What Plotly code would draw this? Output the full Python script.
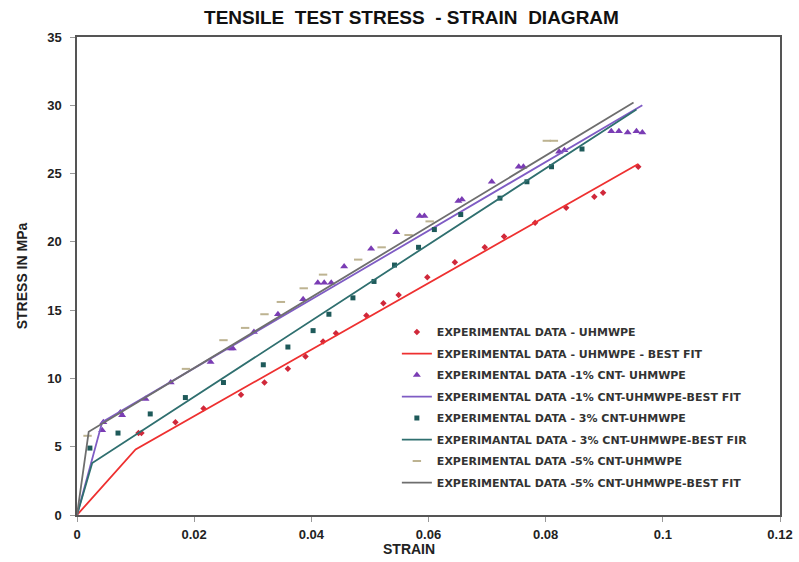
import plotly.graph_objects as go

# ---------------- data ----------------
uh_x = [0.0105, 0.011, 0.0168, 0.0216, 0.028, 0.032, 0.036, 0.039, 0.042, 0.0442, 0.0494,
        0.0523, 0.0549, 0.0598, 0.0645, 0.0696, 0.0729, 0.0782, 0.0835, 0.0883, 0.0898, 0.0958]
uh_y = [6.0, 6.0, 6.8, 7.8, 8.8, 9.7, 10.7, 11.6, 12.7, 13.3, 14.6,
        15.5, 16.1, 17.4, 18.5, 19.6, 20.4, 21.4, 22.5, 23.3, 23.6, 25.5]
uh_fit_x = [0, 0.01, 0.0958]
uh_fit_y = [0, 4.8, 25.7]

c1_x = [0.0043, 0.0045, 0.0074, 0.0077, 0.0117, 0.016, 0.0228, 0.0262, 0.0266, 0.0302, 0.0343,
        0.0386, 0.0411, 0.0422, 0.0434, 0.0456, 0.0502, 0.0545, 0.0585, 0.0593, 0.0651, 0.0657,
        0.0708, 0.0754, 0.0762, 0.0823, 0.0832, 0.0912, 0.0925, 0.0940, 0.0955, 0.0965]
c1_y = [6.2, 6.8, 7.5, 7.3, 8.5, 9.7, 11.2, 12.2, 12.2, 13.4, 14.7,
        15.8, 17.0, 17.0, 17.0, 18.2, 19.5, 20.7, 21.9, 21.9, 23.0, 23.1,
        24.4, 25.5, 25.5, 26.6, 26.7, 28.1, 28.1, 28.0, 28.1, 28.0]
c1_fit_x = [0, 0.0043, 0.0965]
c1_fit_y = [0, 6.8, 30.0]

c3_x = [0.0022, 0.007, 0.0125, 0.0185, 0.025, 0.0318, 0.036, 0.0403, 0.043, 0.0471, 0.0507,
        0.0542, 0.0583, 0.061, 0.0655, 0.0722, 0.0768, 0.0810, 0.0862]
c3_y = [4.9, 6.0, 7.4, 8.6, 9.7, 11.0, 12.3, 13.5, 14.7, 15.9, 17.1,
        18.3, 19.6, 20.9, 22.0, 23.2, 24.4, 25.5, 26.8]
c3_fit_x = [0, 0.0026, 0.0955]
c3_fit_y = [0, 3.8, 29.7]

c5_x = [0.0018, 0.0186, 0.025, 0.0287, 0.032, 0.0348, 0.0387, 0.042, 0.048, 0.052, 0.0566,
        0.0602, 0.0802, 0.0814]
c5_y = [5.8, 10.7, 12.8, 13.7, 14.7, 15.6, 16.6, 17.6, 18.7, 19.6, 20.5,
        21.5, 27.4, 27.4]
c5_fit_x = [0, 0.002, 0.095]
c5_fit_y = [0, 6.1, 30.2]

names = [
    "EXPERIMENTAL DATA - UHMWPE",
    "EXPERIMENTAL DATA - UHMWPE - BEST FIT",
    "EXPERIMENTAL DATA -1% CNT- UHMWPE",
    "EXPERIMENTAL DATA -1% CNT-UHMWPE-BEST FIT",
    "EXPERIMENTAL DATA - 3% CNT-UHMWPE",
    "EXPERIMANTAL DATA - 3% CNT-UHMWPE-BEST FIR",
    "EXPERIMENTAL DATA -5% CNT-UHMWPE",
    "EXPERIMENTAL DATA -5% CNT-UHMWPE-BEST FIT",
]

x_ticks = [0, 0.02, 0.04, 0.06, 0.08, 0.1, 0.12]
x_tick_text = ["0", "0.02", "0.04", "0.06", "0.08", "0.1", "0.12"]
y_ticks = [0, 5, 10, 15, 20, 25, 30, 35]

FONT = "Liberation Sans, Arial, sans-serif"

fig = go.Figure()
fig.add_trace(go.Scatter(x=uh_x, y=uh_y, mode="markers", name=names[0], legendgroup="g0",
                         marker=dict(symbol="diamond", size=5, color="#d0283a")))
fig.add_trace(go.Scatter(x=uh_fit_x, y=uh_fit_y, mode="lines", name=names[1], legendgroup="g1",
                         line=dict(color="#ee3030", width=1.8)))
fig.add_trace(go.Scatter(x=c1_x, y=c1_y, mode="markers", name=names[2], legendgroup="g2",
                         marker=dict(symbol="triangle-up", size=7, color="#7a3cb4")))
fig.add_trace(go.Scatter(x=c1_fit_x, y=c1_fit_y, mode="lines", name=names[3], legendgroup="g3",
                         line=dict(color="#7f5cc4", width=1.8)))
fig.add_trace(go.Scatter(x=c3_x, y=c3_y, mode="markers", name=names[4], legendgroup="g4",
                         marker=dict(symbol="square", size=5, color="#1e5a5a")))
fig.add_trace(go.Scatter(x=c3_fit_x, y=c3_fit_y, mode="lines", name=names[5], legendgroup="g5",
                         line=dict(color="#2f6f6f", width=1.8)))
fig.add_trace(go.Scatter(x=c5_x, y=c5_y, mode="markers", name=names[6], legendgroup="g6",
                         marker=dict(symbol="line-ew", size=6, color="#bdb391",
                                     line=dict(color="#bdb391", width=2))))
fig.add_trace(go.Scatter(x=c5_fit_x, y=c5_fit_y, mode="lines", name=names[7], legendgroup="g7",
                         line=dict(color="#6e6e6e", width=1.8)))

axis_common = dict(
    showgrid=False, zeroline=False, showline=True, linecolor="#555555", linewidth=1.5,
    mirror=True, ticks="outside", ticklen=5, tickcolor="#999999",
    automargin=False,
    tickfont=dict(family=FONT, size=13, color="#222222", weight="bold"),
)

fig.update_layout(
    width=799, height=562,
    margin=dict(l=77, r=19, t=37, b=47),
    paper_bgcolor="white", plot_bgcolor="white",
    title=dict(text="TENSILE  TEST STRESS  - STRAIN  DIAGRAM",
               x=0.515, xanchor="center", y=0.97, yanchor="middle",
               font=dict(family=FONT, size=19, color="#111111", weight="bold")),
    xaxis=dict(range=[0, 0.12], tickvals=x_ticks, ticktext=x_tick_text,
               ticklabelstandoff=2, **axis_common),
    yaxis=dict(range=[0, 35], tickvals=y_ticks, ticklabelstandoff=6,
               title=dict(text="STRESS IN MPa", standoff=16,
                          font=dict(family=FONT, size=14, color="#222222", weight="bold")),
               **axis_common),
    annotations=[dict(text="STRAIN", xref="paper", yref="paper",
                      x=0.472, y=-0.072, xanchor="center", yanchor="middle",
                      showarrow=False,
                      font=dict(family=FONT, size=14, color="#222222", weight="bold"))],
    legend=dict(x=0.455, xanchor="left", y=0.413, yanchor="top",
                bgcolor="rgba(255,255,255,0)", tracegroupgap=2.5,
                font=dict(family="DejaVu Sans, sans-serif", size=11, color="#333333",
                          weight="bold")),
    showlegend=True,
)

fig.write_html("out.html",
               config={"displayModeBar": False},
               post_script="document.body.style.margin='0px';document.body.style.overflow='hidden';")
